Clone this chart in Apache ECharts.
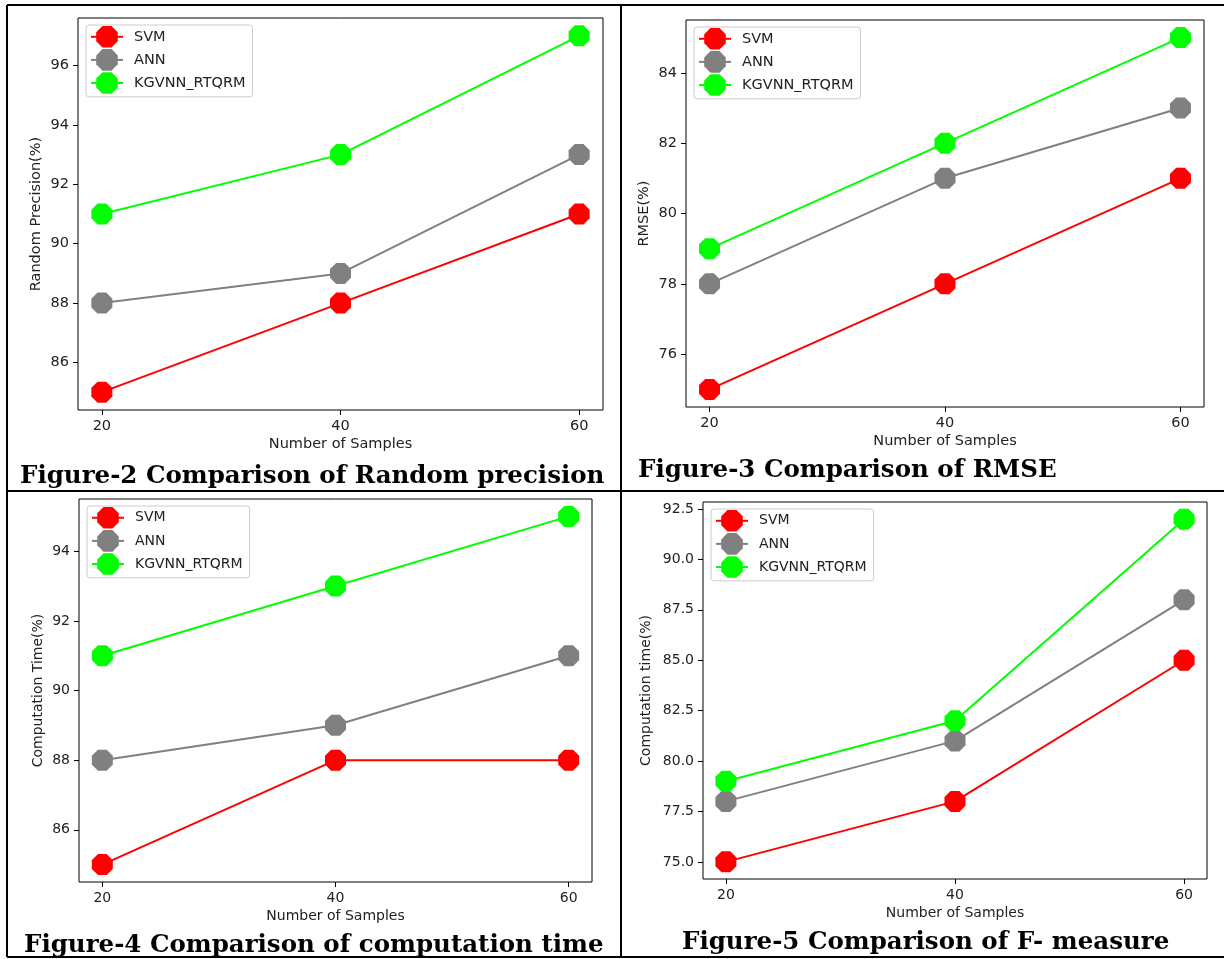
<!DOCTYPE html>
<html>
<head>
<meta charset="utf-8">
<script src="https://cdn.jsdelivr.net/npm/echarts@6/dist/echarts.min.js"></script>
<style>
  html, body { margin: 0; padding: 0; background: #fff; }
  #main { width: 1224px; height: 959px; }
</style>
</head>
<body>
<div id="main"></div>
<script>
// x 轴：样本数
const samples = [20, 40, 60];
const seriesNames = ['SVM', 'ANN', 'KGVNN_RTQRM'];
const seriesColors = ['#ff0000', '#808080', '#00ff00'];

// Figure-2 Random precision
const svmPrecision = [85, 88, 91];
const annPrecision = [88, 89, 93];
const kgPrecision = [91, 93, 97];
const precisionTicks = [86, 88, 90, 92, 94, 96];

// Figure-3 RMSE
const svmRmse = [75, 78, 81];
const annRmse = [78, 81, 83];
const kgRmse = [79, 82, 85];
const rmseTicks = [76, 78, 80, 82, 84];

// Figure-4 computation time
const svmTime = [85, 88, 88];
const annTime = [88, 89, 91];
const kgTime = [91, 93, 95];
const timeTicks = [86, 88, 90, 92, 94];

// Figure-5 F-measure
const svmF = [75, 78, 85];
const annF = [78, 81, 88];
const kgF = [79, 82, 92];
const fTicks = [75, 77.5, 80, 82.5, 85, 87.5, 90, 92.5];

const xTicks = [20, 40, 60];

// 每个子图的配置
const panels = [
    { grid: { left: 78, top: 18, width: 525, height: 392 }, yName: 'Random Precision(%)',
      data: [svmPrecision, annPrecision, kgPrecision], ticks: precisionTicks, dec: 0, font: 14.5, yGap: 34,
      caption: 'Figure-2 Comparison of Random precision', capX: 20, capY: 474 },
    { grid: { left: 686, top: 20, width: 518, height: 387 }, yName: 'RMSE(%)',
      data: [svmRmse, annRmse, kgRmse], ticks: rmseTicks, dec: 0, font: 14.5, yGap: 34,
      caption: 'Figure-3 Comparison of RMSE', capX: 638, capY: 468 },
    { grid: { left: 79, top: 499, width: 513, height: 383 }, yName: 'Computation Time(%)',
      data: [svmTime, annTime, kgTime], ticks: timeTicks, dec: 0, font: 14, yGap: 34,
      caption: 'Figure-4 Comparison of computation time', capX: 24, capY: 943 },
    { grid: { left: 703, top: 502, width: 504, height: 377 }, yName: 'Computation time(%)',
      data: [svmF, annF, kgF], ticks: fTicks, dec: 1, font: 14, yGap: 50,
      caption: 'Figure-5 Comparison of F- measure', capX: 682, capY: 940 }
];

// 八边形标记（matplotlib 的 '8'）
const octagon = 'path://M29.3,0 L70.7,0 L100,29.3 L100,70.7 L70.7,100 L29.3,100 L0,70.7 L0,29.3 Z';

const grids = [], xAxes = [], yAxes = [], series = [], legends = [], graphics = [];

panels.forEach((p, i) => {
    const all = p.data.flat();
    const lo = Math.min(...all), hi = Math.max(...all);
    const pad = (hi - lo) * 0.05;

    grids.push(Object.assign({ show: true, borderColor: '#000', borderWidth: 1, backgroundColor: 'transparent' }, p.grid));

    xAxes.push({
        type: 'value', gridIndex: i, min: 18, max: 62,
        name: 'Number of Samples', nameLocation: 'middle', nameGap: 27,
        nameTextStyle: { fontFamily: 'DejaVu Sans', fontSize: p.font, color: '#222' },
        axisLine: { show: false },
        axisTick: { show: true, inside: false, length: 5, customValues: xTicks, lineStyle: { color: '#000' } },
        axisLabel: { customValues: xTicks, margin: 9, fontFamily: 'DejaVu Sans', fontSize: p.font, color: '#222' },
        splitLine: { show: false }
    });

    yAxes.push({
        type: 'value', gridIndex: i, min: lo - pad, max: hi + pad,
        name: p.yName, nameLocation: 'middle', nameGap: p.yGap,
        nameTextStyle: { fontFamily: 'DejaVu Sans', fontSize: p.font, color: '#222' },
        axisLine: { show: false },
        axisTick: { show: true, inside: false, length: 5, customValues: p.ticks, lineStyle: { color: '#000' } },
        axisLabel: { customValues: p.ticks, margin: 9, fontFamily: 'DejaVu Sans', fontSize: p.font, color: '#222',
                     formatter: v => v.toFixed(p.dec) },
        splitLine: { show: false }
    });

    p.data.forEach((vals, k) => {
        series.push({
            type: 'line', name: seriesNames[k], xAxisIndex: i, yAxisIndex: i,
            data: samples.map((x, j) => [x, vals[j]]),
            symbol: octagon, symbolSize: 21, showSymbol: true,
            lineStyle: { color: seriesColors[k], width: 2 },
            itemStyle: { color: seriesColors[k] },
            emphasis: { disabled: true },
            animation: false
        });
    });

    legends.push({
        orient: 'vertical', left: p.grid.left + 8, top: p.grid.top + 7,
        data: seriesNames,
        itemWidth: 32, itemHeight: 27, itemGap: 1.5,
        padding: [1, 7, 3, 4],
        backgroundColor: 'rgba(255,255,255,0.8)', borderColor: '#cccccc', borderWidth: 1, borderRadius: 3,
        textStyle: { fontFamily: 'DejaVu Sans', fontSize: p.font, color: '#222', padding: [0, 0, 0, 6] },
        selectedMode: false
    });

    graphics.push({
        type: 'text', left: p.capX, top: p.capY - 10,
        style: { text: p.caption, font: 'bold 24.5px "DejaVu Serif"', fill: '#000' }
    });
});

// 表格边框
const borderLines = [
    [7, 5, 1224, 5], [7, 5, 7, 957], [621, 5, 621, 957],
    [7, 491, 1224, 491], [7, 957, 1224, 957]
];
borderLines.forEach(([x1, y1, x2, y2]) => {
    graphics.push({ type: 'line', shape: { x1, y1, x2, y2 }, style: { stroke: '#000', lineWidth: 2 }, z: 10 });
});

const chart = echarts.init(document.getElementById('main'));
chart.setOption({
    backgroundColor: '#fff',
    animation: false,
    grid: grids,
    xAxis: xAxes,
    yAxis: yAxes,
    legend: legends,
    series: series,
    graphic: graphics
});
</script>
</body>
</html>
